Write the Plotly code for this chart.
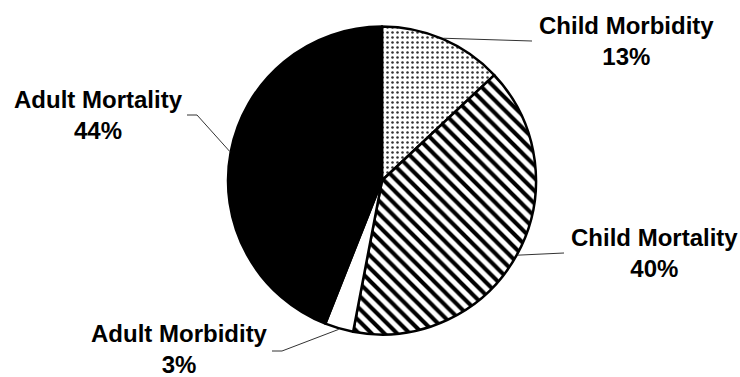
import math
import plotly.graph_objects as go

# Burden shares, clockwise from 12 o'clock
categories = ["Child Morbidity", "Child Mortality", "Adult Morbidity", "Adult Mortality"]
shares = [13, 40, 3, 44]

W, H = 740, 377
CX, CY, R = 382, 180.5, 154

fig = go.Figure(
    go.Pie(
        labels=categories,
        values=shares,
        sort=False,
        direction="clockwise",
        rotation=0,
        textinfo="none",
        hoverinfo="label+percent",
        showlegend=False,
        domain=dict(
            x=[(CX - R) / W, (CX + R) / W],
            y=[(H - CY - R) / H, (H - CY + R) / H],
        ),
        marker=dict(
            colors=["white", "white", "white", "black"],
            line=dict(color="black", width=2.5),
            pattern=dict(
                shape=[".", "\\", "", ""],
                fgcolor=["#333333", "black", "black", "black"],
                bgcolor=["white", "white", "white", "black"],
                size=[5, 9, 8, 8],
                solidity=[0.2, 0.45, 0.3, 0.3],
                fillmode="replace",
            ),
        ),
    )
)

# Label blocks (centre, in pixels) and leader-line bends
label_pos = [(626, 41), (654, 253), (179, 349), (98, 115)]
leader_bends = [
    [(532, 41)],
    [(564, 253)],
    [(282, 351), (272, 351)],
    [(197, 115), (187, 115)],
]


def px(x, y):
    return x / W, 1 - y / H


total = sum(shares)
cum = 0
shapes = []
annotations = []
for name, v, (lx, ly), bends in zip(categories, shares, label_pos, leader_bends):
    mid = (cum + v / 2) / total * 2 * math.pi
    cum += v
    ex = CX + (R + 1) * math.sin(mid)
    ey = CY - (R + 1) * math.cos(mid)
    pts = [px(ex, ey)] + [px(bx, by) for bx, by in bends]
    path = "M " + " L ".join(f"{a},{b}" for a, b in pts)
    shapes.append(dict(type="path", xref="paper", yref="paper", path=path,
                       line=dict(color="#333", width=1)))
    pct = round(v / total * 100)
    x0, y0 = px(lx, ly)
    annotations.append(dict(
        x=x0, y=y0, xref="paper", yref="paper", xanchor="center", yanchor="middle",
        text=f"<b>{name}<br>{pct}%</b>", showarrow=False, align="center",
        font=dict(family="Liberation Sans", size=24, color="black"),
    ))

fig.update_layout(
    width=W, height=H,
    margin=dict(l=0, r=0, t=0, b=0),
    paper_bgcolor="white",
    plot_bgcolor="white",
    shapes=shapes,
    annotations=annotations,
)

fig.write_html("out.html")
